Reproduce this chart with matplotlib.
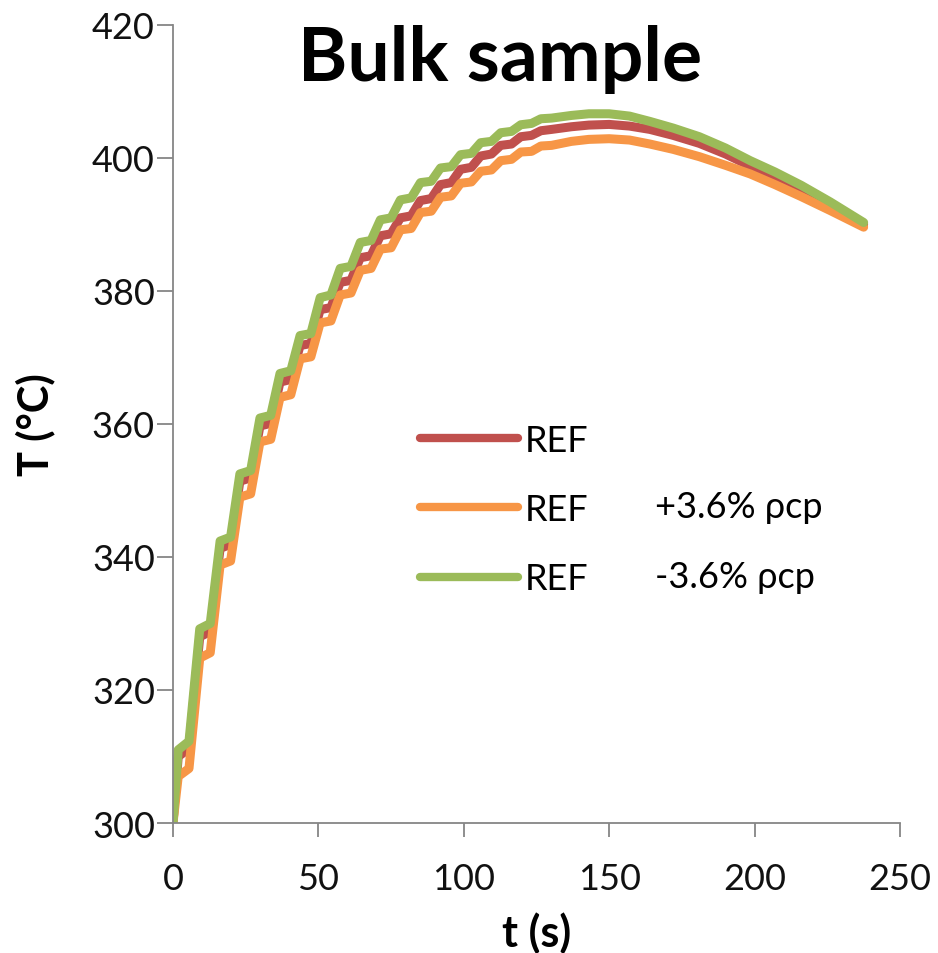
import matplotlib
matplotlib.use("Agg")
import matplotlib.pyplot as plt

plt.rcParams['font.family'] = ['Lato', 'DejaVu Sans']

# time (s)
t_s = [0.0,
       1.8, 5.5, 9.2, 12.8, 16.2, 19.8, 23.0, 26.7, 29.9, 33.6, 36.8, 40.5,
       43.7, 47.4, 50.6, 54.3, 57.5, 61.2, 64.4, 68.1, 71.3, 75.0, 78.2, 81.9,
       85.1, 88.8, 92.0, 95.7, 98.9, 102.6, 105.8, 109.5, 112.7, 116.4, 119.6,
       123.3, 126.5, 130.2,
       137, 143, 150, 157, 164, 172, 181, 190, 198.5, 207, 216, 226, 237.5]

# REF
T_ref = [300.0,
         310.0, 311.2, 328.0, 328.8, 341.3, 341.9, 351.4, 351.9, 359.7, 360.1,
         366.3, 366.7, 371.8, 372.1, 377.2, 377.5, 381.3, 381.6, 385.0, 385.3,
         388.3, 388.6, 391.0, 391.3, 393.6, 393.9, 396.0, 396.3, 398.3, 398.6,
         400.3, 400.6, 401.9, 402.1, 403.2, 403.4, 404.1, 404.3,
         404.7, 404.95, 405.05, 404.8, 404.3, 403.4, 402.2, 400.6, 398.8,
         397.1, 395.2, 393.0, 390.0]

# REF +3.6% rho*cp
T_plus = [300.0,
          307.0, 308.2, 324.8, 325.6, 338.8, 339.4, 349.0, 349.5, 357.3, 357.7,
          364.0, 364.4, 369.8, 370.1, 375.2, 375.5, 379.4, 379.7, 383.1, 383.4,
          386.3, 386.5, 389.2, 389.4, 391.8, 392.0, 394.1, 394.3, 396.2, 396.4,
          398.0, 398.2, 399.6, 399.8, 400.9, 401.0, 401.8, 401.9,
          402.5, 402.8, 402.9, 402.7, 402.1, 401.3, 400.2, 398.9, 397.6,
          396.0, 394.2, 392.1, 389.6]

# REF -3.6% rho*cp
T_minus = [300.0,
           311.0, 312.3, 329.2, 330.0, 342.4, 343.0, 352.5, 353.0, 360.9, 361.3,
           367.6, 368.0, 373.3, 373.6, 379.0, 379.4, 383.4, 383.7, 387.3, 387.6,
           390.7, 391.0, 393.7, 394.0, 396.3, 396.5, 398.5, 398.7, 400.5, 400.7,
           402.3, 402.5, 403.8, 404.0, 405.0, 405.2, 405.9, 406.0,
           406.4, 406.65, 406.65, 406.3, 405.5, 404.5, 403.2, 401.5, 399.6,
           397.9, 395.9, 393.4, 390.3]

series_labels = ["REF", "REF", "REF"]
extra_labels = ["", "+3.6% \u03c1cp", "-3.6% \u03c1cp"]
colors = ["#C0504D", "#F79646", "#9BBB59"]

x_ticks = [0, 50, 100, 150, 200, 250]
y_ticks = [300, 320, 340, 360, 380, 400, 420]

fig = plt.figure(figsize=(9.38, 9.54), dpi=100)
ax = fig.add_axes([173/938, 130/954, 727/938, 798/954])

lw = 6.5
for T, c, lab in zip([T_ref, T_plus, T_minus], colors, series_labels):
    ax.plot(t_s, T, color=c, lw=lw, label=lab,
            solid_joinstyle='round', solid_capstyle='round')

ax.set_xlim(0, 250)
ax.set_ylim(300, 420)
ax.set_xticks(x_ticks)
ax.set_yticks(y_ticks)

gray = "#868686"
for s in ['top', 'right']:
    ax.spines[s].set_visible(False)
for s in ['left', 'bottom']:
    ax.spines[s].set_color(gray)
    ax.spines[s].set_linewidth(1.3)
ax.tick_params(axis='y', direction='out', length=11.5, width=1.3, color=gray,
               labelsize=26, pad=1.5, labelcolor='#111111')
ax.tick_params(axis='x', direction='out', length=10, width=1.3, color=gray,
               labelsize=26, pad=18, labelcolor='#111111')

ax.set_xlabel("t (s)", fontsize=31, fontweight='bold', labelpad=12)
ax.set_ylabel("T (°C)", fontsize=30, fontweight='bold', labelpad=26)

ax.text(0.45, 0.958, "Bulk sample", transform=ax.transAxes, fontsize=54,
        fontweight='bold', ha='center', va='center')

leg = ax.legend(loc='upper left', bbox_to_anchor=(0.34, 0.50), frameon=False,
                fontsize=26, handlelength=2.7, handletextpad=0.2,
                labelspacing=1.0, borderpad=0, borderaxespad=0)
for line in leg.get_lines():
    line.set_linewidth(6)
    line.set_solid_capstyle('round')

ax.text(0.663, 0.397, extra_labels[1], transform=ax.transAxes, fontsize=26,
        va='center', ha='left')
ax.text(0.663, 0.309, extra_labels[2], transform=ax.transAxes, fontsize=26,
        va='center', ha='left')

fig.savefig("out.png", dpi=100)
